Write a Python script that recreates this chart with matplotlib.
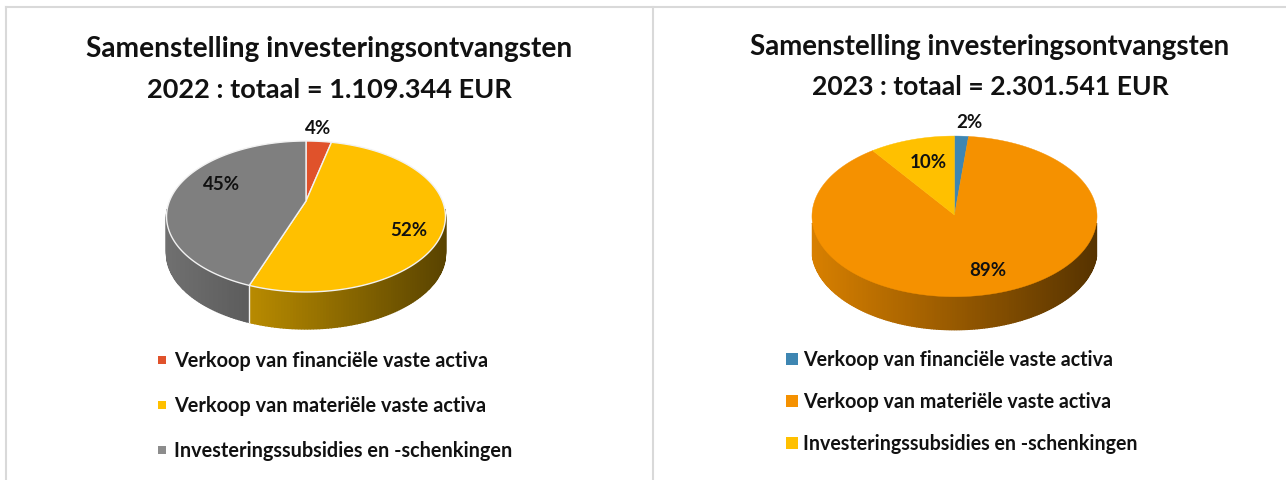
import numpy as np
import matplotlib
matplotlib.use("Agg")
import matplotlib.pyplot as plt
from matplotlib.patches import Polygon
from matplotlib.colors import to_rgb

plt.rcParams['font.family'] = ['Lato', 'DejaVu Sans']

categories = ["Verkoop van financiële vaste activa",
              "Verkoop van materiële vaste activa",
              "Investeringssubsidies en -schenkingen"]
titles = [["Samenstelling investeringsontvangsten", "2022 : totaal = 1.109.344 EUR"],
          ["Samenstelling investeringsontvangsten", "2023 : totaal = 2.301.541 EUR"]]
values_2022 = [3.6, 51.9, 44.6]
values_2023 = [1.6, 88.6, 9.9]
labels_2022 = ["4%", "52%", "45%"]
labels_2023 = ["2%", "89%", "10%"]
colors_2022 = ["#E0522B", "#FFC000", "#7F7F7F"]
colors_2023 = ["#3E86B2", "#F59100", "#FFC000"]
legend_2022 = ["#E0522B", "#FFC000", "#8C8C8C"]


def project(theta, g):
    u, v = np.sin(theta), np.cos(theta)
    w = 1 + g['k'] * v
    return g['cx'] + g['A'] * u / w, g['cy'] - g['B'] * v / w


def draw_pie(ax, values, colors, g, edge):
    vals = np.array(values, float)
    fr = vals / vals.sum()
    edges = np.concatenate([[0], np.cumsum(fr)]) * 2 * np.pi
    xmin, xmax = g['cx'] - g['rx'], g['cx'] + g['rx']
    # side wall, shaded left to right
    for i, c in enumerate(colors):
        n = max(3, int(fr[i] * 360))
        th = np.linspace(edges[i], edges[i + 1], n + 1)
        x, y = project(th, g)
        base = np.array(to_rgb(c))
        for j in range(n):
            mx = (x[j] + x[j + 1]) / 2
            my = (y[j] + y[j + 1]) / 2
            if my < g['cy'] + 8:
                continue
            t = (mx - xmin) / (xmax - xmin)
            shade = 0.88 - 0.53 * t
            col = base * shade
            ax.add_patch(Polygon([(x[j], y[j]), (x[j + 1], y[j + 1]),
                                  (x[j + 1], y[j + 1] + g['d']), (x[j], y[j] + g['d'])],
                                 closed=True, fc=col, ec=col, lw=1.0, zorder=2))
    # top face
    for i, c in enumerate(colors):
        n = max(8, int(fr[i] * 360))
        th = np.linspace(edges[i], edges[i + 1], n + 1)
        x, y = project(th, g)
        pts = [(g['cx'], g['cy'])] + list(zip(x, y))
        ax.add_patch(Polygon(pts, closed=True, fc=c,
                             ec=edge if edge else c, lw=1.0 if edge else 0.3, zorder=3))
    # white line between wall segments
    if edge:
        for e in edges:
            x, y = project(e, g)
            if y > g['cy'] + 8:
                ax.plot([x, x], [y, y + g['d']], color=edge, lw=1.0, zorder=4)


fig = plt.figure(figsize=(12.86, 4.80), dpi=100, facecolor="white")
ax = fig.add_axes([0, 0, 1, 1])
ax.set_xlim(0, 1286)
ax.set_ylim(480, 0)
ax.axis("off")

# panel borders
border = "#D9D9D9"
ax.plot([6, 6], [7, 480], color=border, lw=1.5)
ax.plot([6, 1286], [7, 7], color=border, lw=1.5)
ax.plot([653, 653], [7, 480], color=border, lw=1.5)

g22 = dict(cx=306, cy=201, A=136.5, B=72.3, k=0.205, rx=139.5, d=37)
g23 = dict(cx=954.5, cy=215, A=142.5, B=80.3, k=0.017, rx=142.5, d=33)
draw_pie(ax, values_2022, colors_2022, g22, "#F2F2F2")
draw_pie(ax, values_2023, colors_2023, g23, None)

# titles
for (cx, ys, lines, sizes) in [(329.5, (49, 90), titles[0], (20.15, 19.5)),
                               (990, (47, 87), titles[1], (19.9, 19.1))]:
    for y, s, ts in zip(ys, lines, sizes):
        ax.text(cx, y, s, ha="center", va="center", fontsize=ts, fontweight="bold",
                color="#111111", zorder=5)

# data labels
DS = 13.5
for lab, pos in zip(labels_2022, [(318, 129), (408.5, 231), (222, 185)]):
    ax.text(*pos, lab, ha="center", va="center", fontsize=DS, fontweight="bold", color="#111111", zorder=6)
for lab, pos in zip(labels_2023, [(969, 123), (988, 271), (928, 163)]):
    ax.text(*pos, lab, ha="center", va="center", fontsize=DS, fontweight="bold", color="#111111", zorder=6)

# legends
for cat, col, y in zip(categories, legend_2022, (360, 405, 450)):
    ax.plot([162], [y], marker="s", ms=6, color=col, mew=0, ls="none")
    ax.text(174, y + 1, cat, ha="left", va="center", fontsize=14.35, fontweight="bold", color="#111111")
for cat, col, y in zip(categories, colors_2023, (359, 401, 443)):
    ax.plot([791.5], [y], marker="s", ms=8, color=col, mew=0, ls="none")
    ax.text(803, y + 1, cat, ha="left", va="center", fontsize=14.15, fontweight="bold", color="#111111")

fig.savefig("out.png", dpi=100, facecolor="white")
